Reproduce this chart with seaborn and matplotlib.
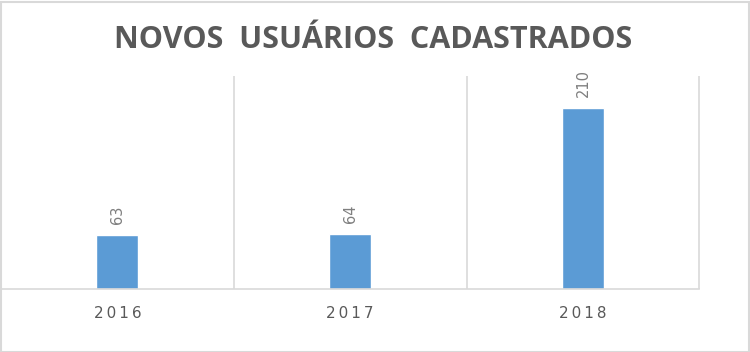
import matplotlib
matplotlib.use("Agg")
import matplotlib.pyplot as plt
import seaborn as sns
import pandas as pd
from matplotlib.patches import Rectangle

years = ["2016", "2017", "2018"]
values = [63, 64, 210]
title = "NOVOS USUÁRIOS CADASTRADOS"

sns.set_theme(style="white")
plt.rcParams['font.family'] = ['DejaVu Sans']

df = pd.DataFrame({"ano": years, "usuarios": values})

fig = plt.figure(figsize=(7.5, 3.52), dpi=100)
ax = fig.add_axes([1/750, (352-289)/352, (699.5-1)/750, (289-76)/352])

sns.barplot(data=df, x="ano", y="usuarios", color="#5B9BD5", width=0.18,
            saturation=1, ax=ax)

ax.set_xlim(-0.5, 2.5)
ax.set_ylim(0, 247)
ax.set_yticks([])
ax.set_xlabel("")
ax.set_ylabel("")
for s in ["left", "top", "right"]:
    ax.spines[s].set_visible(False)
ax.spines["bottom"].set_color("#d9d9d9")
ax.spines["bottom"].set_linewidth(1.2)

ax.set_xticks(range(len(years)))
ax.set_xticklabels(["\u2009".join(y) for y in years], fontsize=11, color="#595959")
ax.tick_params(axis="x", length=0, pad=12)
ax.set_xticks([0.5, 1.5, 2.5], minor=True)
ax.tick_params(axis="x", which="minor", length=0)
ax.grid(True, axis="x", which="minor", color="#d9d9d9", linewidth=1.2)
ax.set_axisbelow(True)

for i, v in enumerate(values):
    ax.annotate(str(v), (i, v), xytext=(0, 8), textcoords="offset points",
                rotation=90, ha="center", va="bottom", fontsize=10.5, color="#7f7f7f")

fig.text(0.497, 1 - 40/352, title.replace(" ", "  "),
         ha="center", va="center", fontsize=22, fontweight="bold", color="#595959",
         family=["Open Sans", "DejaVu Sans"])

fig.patches.append(Rectangle((0.5/750, 0.5/352), 1 - 2/750, 1 - 2/352, transform=fig.transFigure,
                             fill=False, edgecolor="#d9d9d9", linewidth=1.5))

fig.savefig("out.png", dpi=100)
